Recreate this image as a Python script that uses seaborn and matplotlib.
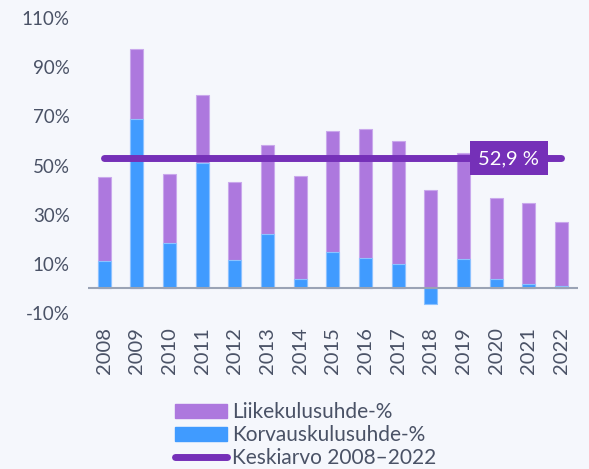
import numpy as np
import pandas as pd
import seaborn as sns
from matplotlib import pyplot as plt
from matplotlib.patches import Patch
from matplotlib.lines import Line2D

years = [str(y) for y in range(2008, 2023)]
korvaus = [11.3, 68.8, 18.5, 50.9, 11.5, 22.1, 3.8, 14.8, 12.3, 10.0, -6.4, 11.9, 3.8, 1.6, 1.1]
liike = [33.9, 28.5, 28.0, 27.8, 31.7, 36.3, 41.8, 49.3, 52.6, 50.0, 40.1, 43.1, 32.9, 33.2, 26.1]
keskiarvo = 52.9
yticks = [-10, 10, 30, 50, 70, 90, 110]

bg = "#f5f7fc"
purple = "#ad78de"
blue = "#409bff"
dark = "#7530b8"
txt = "#4a5266"

sns.set_theme(style="white")
plt.rcParams['font.family'] = ['Lato', 'DejaVu Sans']

df = pd.DataFrame({"vuosi": years, "korvaus": korvaus, "liike": liike})
df["yhteensa"] = df["korvaus"].clip(lower=0) + df["liike"]

fig = plt.figure(figsize=(5.89, 4.69), dpi=100, facecolor=bg)
ax = fig.add_axes([0.149, 0.3326, 0.832, 0.629])
ax.set_facecolor(bg)

sns.barplot(data=df, x="vuosi", y="yhteensa", color=purple, width=0.4,
            saturation=1, edgecolor="#c9a8ec", linewidth=0.8, ax=ax)
sns.barplot(data=df, x="vuosi", y="korvaus", color=blue, width=0.4,
            saturation=1, edgecolor="#8cc2ff", linewidth=0.8, ax=ax)

ax.axhline(0, color="#9aa3b5", lw=1.5, zorder=3)
ax.plot([0, 14], [keskiarvo, keskiarvo], color=dark, lw=5,
        solid_capstyle="round", zorder=4)
ax.text(12.39, keskiarvo, f"{keskiarvo:.1f} %".replace(".", ","), color="white",
        fontsize=14.5, ha="center", va="center", zorder=5,
        bbox=dict(boxstyle="square,pad=0.42", fc=dark, ec="none"))

ax.set_xlim(-0.5, 14.5)
ax.set_ylim(-10, 110)
ax.set_yticks(yticks)
ax.set_yticklabels([f"{t}%" for t in yticks])
ax.tick_params(axis="y", colors=txt, labelsize=13.5, length=0, pad=13)
ax.tick_params(axis="x", colors=txt, labelsize=14.5, length=0, pad=10, labelrotation=90)
ax.set_xlabel("")
ax.set_ylabel("")
for s in ax.spines.values():
    s.set_visible(False)

handles = [Patch(color=purple), Patch(color=blue),
           Line2D([0], [0], color=dark, lw=5, solid_capstyle="round")]
labels = ["Liikekulusuhde-%", "Korvauskulusuhde-%", "Keskiarvo 2008\u20132022"]
leg = fig.legend(handles, labels, loc="upper left", bbox_to_anchor=(0.297, 0.142),
                 frameon=False, fontsize=15, handlelength=2.5, handletextpad=0.25,
                 labelspacing=0.13, borderaxespad=0, borderpad=0)
for t in leg.get_texts():
    t.set_color(txt)

fig.savefig("out.png", dpi=100, facecolor=bg)
